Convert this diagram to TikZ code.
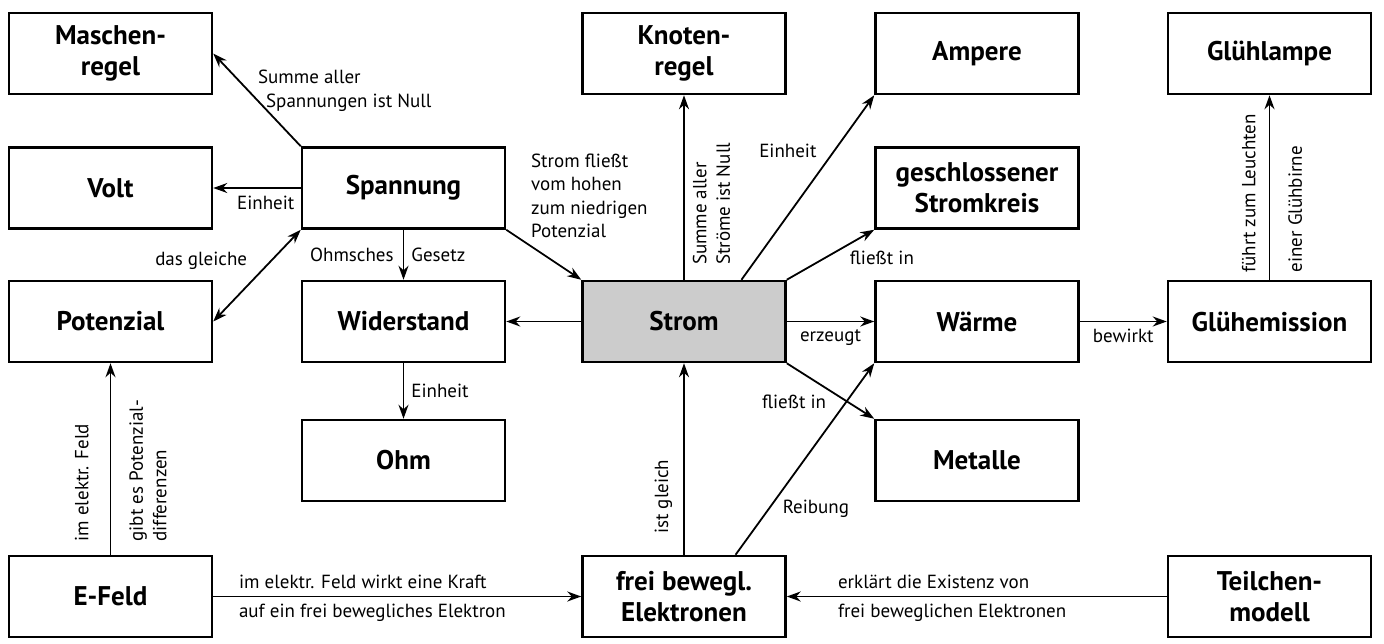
\documentclass[tikz,border=0pt]{standalone}
\usepackage{fontspec}
\setmainfont{PT Sans}
\usetikzlibrary{arrows.meta}
\begin{document}
\begin{tikzpicture}[x=1pt, y=-1pt,
  box/.style = {draw, line width=2.5pt, minimum width=203pt, minimum height=81pt, inner sep=2pt, align=center, font=\fontsize{27}{31}\selectfont\bfseries},
  lbl/.style = {inner sep=1pt, font=\fontsize{19}{23.5}\selectfont},
  pfeil/.style = {line width=1.8pt, -{Stealth[length=14pt, width=10pt]}}]
\useasboundingbox (0,0) rectangle (1384,643);
% Kaesten
\node[box] (masch) at (110.5,53.5) {Maschen-\\regel};
\node[box] (knoten) at (684,53.5) {Knoten-\\regel};
\node[box] (ampere) at (977,53.5) {Ampere};
\node[box] (gllampe) at (1269.5,53.5) {Glühlampe};
\node[box] (volt) at (110.5,188) {Volt};
\node[box] (spann) at (403.5,188) {Spannung};
\node[box] (kreis) at (977,188) {geschlossener\\Stromkreis};
\node[box] (pot) at (110.5,321.5) {Potenzial};
\node[box] (wid) at (403.5,321.5) {Widerstand};
\node[box, fill=black!20] (strom) at (684,321.5) {Strom};
\node[box] (waerme) at (977,321.5) {Wärme};
\node[box] (glem) at (1269.5,321.5) {Glühemission};
\node[box] (ohm) at (403.5,460.5) {Ohm};
\node[box] (metall) at (977,460.5) {Metalle};
\node[box] (efeld) at (110.5,596.5) {E-Feld};
\node[box] (elek) at (684,596.5) {frei bewegl.\\Elektronen};
\node[box] (teil) at (1269.5,596.5) {Teilchen-\\modell};
% Pfeile
\draw[pfeil] (spann.north west) -- node[lbl, pos=0.6, anchor=west, xshift=8pt, align=left] {Summe aller\\\hspace*{8pt}Spannungen ist Null} (masch.east); % Spannung-Maschenregel
\draw[pfeil] (spann.west) -- node[lbl, pos=0.4, below=6pt] {Einheit} (volt.east); % Spannung-Volt
\draw[line width=1.8pt, {Stealth[length=14pt, width=10pt]}-{Stealth[length=14pt, width=10pt]}] (spann.south west) -- node[lbl, pos=0.34, anchor=east, xshift=-22pt] {das gleiche} (pot.east); % Spannung-Potenzial
\draw[pfeil] (spann.south) -- node[lbl, midway, left=8pt] {Ohmsches} node[lbl, midway, right=6pt] {Gesetz} (wid.north); % Spannung-Widerstand
\draw[pfeil] (wid.south) -- node[lbl, midway, right=6pt] {Einheit} (ohm.north); % Widerstand-Ohm
\draw[pfeil] (spann.south east) -- node[lbl, pos=0.2, anchor=south west, xshift=8pt, align=left] {Strom fließt\\vom hohen\\zum niedrigen\\Potenzial} (strom.north west); % Spannung-Strom
\draw[pfeil] (strom.west) -- (wid.east); % Strom-Widerstand
\draw[pfeil] (strom.north) -- node[lbl, pos=0.07, xshift=7pt, rotate=90, anchor=north west, align=left] {Summe aller\\Ströme ist Null} (knoten.south); % Strom-Knotenregel
\draw[pfeil] (strom.36) -- node[lbl, pos=0.7, anchor=east, xshift=-16pt] {Einheit} (ampere.south west); % Strom-Ampere
\draw[pfeil] (strom.north east) -- node[lbl, pos=0.7, anchor=north west, yshift=-4pt] {fließt in} (kreis.south west); % Strom-Stromkreis
\draw[pfeil] (strom.east) -- node[lbl, midway, below=6pt] {erzeugt} (waerme.west); % Strom-Waerme
\draw[pfeil] (strom.south east) -- node[lbl, pos=0.7, anchor=east, xshift=-20pt] {fließt in} (metall.north west); % Strom-Metalle
\draw[pfeil] (elek.39) -- node[lbl, pos=0.24, anchor=west, xshift=12pt] {Reibung} (waerme.south west); % Elektronen-Waerme
\draw[pfeil] (elek.north) -- node[lbl, pos=0.1, xshift=-10pt, rotate=90, anchor=south west] {ist gleich} (strom.south); % Elektronen-Strom
\draw[pfeil] (waerme.east) -- node[lbl, midway, below=6pt] {bewirkt} (glem.west); % Waerme-Gluehemission
\draw[pfeil] (glem.north) -- node[lbl, pos=0.03, xshift=-12pt, rotate=90, anchor=south west] {führt zum Leuchten} node[lbl, pos=0.03, xshift=17pt, rotate=90, anchor=north west] {einer Glühbirne} (gllampe.south); % Gluehemission-Gluehlampe
\draw[pfeil] (efeld.north) -- node[lbl, pos=0.06, xshift=-20pt, rotate=90, anchor=south west] {im elektr. Feld} node[lbl, pos=0.06, xshift=17pt, rotate=90, anchor=north west, align=left] {gibt es Potenzial-\\differenzen} (pot.south); % E-Feld-Potenzial
\draw[pfeil] (efeld.east) -- node[lbl, pos=0.065, anchor=south west, yshift=6pt] {im elektr. Feld wirkt eine Kraft} node[lbl, pos=0.065, anchor=north west, yshift=-6pt] {auf ein frei bewegliches Elektron} (elek.west); % E-Feld-Elektronen
\draw[pfeil] (teil.west) -- node[lbl, pos=0.87, anchor=south west, yshift=6pt] {erklärt die Existenz von} node[lbl, pos=0.87, anchor=north west, yshift=-6pt] {frei beweglichen Elektronen} (elek.east); % Teilchenmodell-Elektronen
\end{tikzpicture}
\end{document}
